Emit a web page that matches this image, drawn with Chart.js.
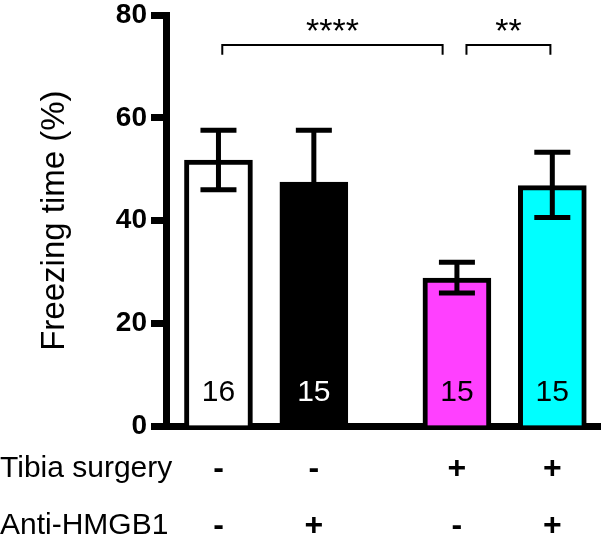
<!DOCTYPE html>
<html>
<head>
<meta charset="utf-8">
<script src="https://cdn.jsdelivr.net/npm/chart.js@4"></script>
<style>
  body { margin: 0; background: #fff; }
  canvas { display: block; }
</style>
</head>
<body>
<canvas id="freezingChart" width="601" height="538"></canvas>
<script>
// Data
const barPositions = [0, 1, 2.5, 3.5];
const meanValues = [51.8, 47.5, 28.8, 46.8];
const errUpper = [57.6, 57.6, 31.9, 53.3];
const errLower = [46.0, 37.4, 25.9, 40.6];
const groupCounts = ['16', '15', '15', '15'];
const barColors = ['#ffffff', '#000000', '#ff40ff', '#00ffff'];
const countColors = ['#000000', '#ffffff', '#000000', '#000000'];
const tibiaSurgery = ['-', '-', '+', '+'];
const antiHMGB1 = ['-', '+', '-', '+'];
const rowLabels = ['Tibia surgery', 'Anti-HMGB1'];
const yTicks = [0, 20, 40, 60, 80];

// significance brackets (x in bar positions, y in %)
const bracketFrom = [0.04, 2.6];
const bracketTo = [2.35, 3.48];
const bracketLevel = 74.2;
const bracketDrop = 72.3;
const bracketStars = ['****', '**'];

const FONT = "'Liberation Sans', Arial, sans-serif";
Chart.defaults.font.family = FONT;

// Error bars, n labels, brackets and the row table under the axis
const extrasPlugin = {
    id: 'extras',
    afterDatasetsDraw(chart) {
        const ctx = chart.ctx;
        const xs = chart.scales.x;
        const ys = chart.scales.y;
        ctx.save();

        // error bars
        ctx.strokeStyle = '#000';
        ctx.lineWidth = 5;
        ctx.lineCap = 'butt';
        barPositions.forEach((pos, i) => {
            const x = xs.getPixelForValue(pos);
            const yHi = ys.getPixelForValue(errUpper[i]);
            const yLo = ys.getPixelForValue(errLower[i]);
            ctx.beginPath();
            ctx.moveTo(x, yHi);
            ctx.lineTo(x, yLo);
            ctx.moveTo(x - 18, yHi);
            ctx.lineTo(x + 18, yHi);
            ctx.moveTo(x - 18, yLo);
            ctx.lineTo(x + 18, yLo);
            ctx.stroke();
        });

        // n per group inside the bars
        ctx.font = '30px ' + FONT;
        ctx.textAlign = 'center';
        ctx.textBaseline = 'middle';
        barPositions.forEach((pos, i) => {
            ctx.fillStyle = countColors[i];
            ctx.fillText(groupCounts[i], xs.getPixelForValue(pos), ys.getPixelForValue(0) - 33);
        });

        // brackets
        ctx.lineWidth = 2;
        ctx.fillStyle = '#000';
        ctx.font = '34px ' + FONT;
        ctx.textBaseline = 'middle';
        bracketFrom.forEach((from, i) => {
            const x1 = xs.getPixelForValue(from);
            const x2 = xs.getPixelForValue(bracketTo[i]);
            const yTop = ys.getPixelForValue(bracketLevel);
            const yEnd = ys.getPixelForValue(bracketDrop);
            ctx.beginPath();
            ctx.moveTo(x1, yEnd);
            ctx.lineTo(x1, yTop);
            ctx.lineTo(x2, yTop);
            ctx.lineTo(x2, yEnd);
            ctx.stroke();
            ctx.fillText(bracketStars[i], (x1 + x2) / 2, yTop - 12);
        });

        // treatment table
        const rowY = [469, 526];
        ctx.font = '30px ' + FONT;
        ctx.textAlign = 'left';
        rowLabels.forEach((label, r) => ctx.fillText(label, 0, rowY[r]));
        ctx.font = 'bold 32px ' + FONT;
        ctx.textAlign = 'center';
        [tibiaSurgery, antiHMGB1].forEach((row, r) => {
            row.forEach((sym, i) => {
                ctx.fillText(sym, xs.getPixelForValue(barPositions[i]), rowY[r]);
            });
        });

        ctx.restore();
    }
};

const chartCtx = document.getElementById('freezingChart').getContext('2d');
const freezingChart = new Chart(chartCtx, {
    type: 'bar',
    data: {
        datasets: [{
            data: barPositions.map((x, i) => ({ x: x, y: meanValues[i] })),
            backgroundColor: barColors,
            borderColor: '#000',
            borderWidth: 5,
            borderSkipped: 'bottom',
            barThickness: 68
        }]
    },
    options: {
        responsive: false,
        animation: false,
        layout: { padding: { top: 12, right: 1 } },
        plugins: {
            legend: { display: false },
            tooltip: { enabled: false }
        },
        scales: {
            x: {
                type: 'linear',
                offset: false,
                min: -0.55,
                max: 4.0,
                ticks: { display: false },
                grid: { display: false },
                border: { width: 7, color: '#000' },
                afterFit: scale => { scale.height = 112; }
            },
            y: {
                min: 0,
                max: 80,
                afterBuildTicks: scale => { scale.ticks = yTicks.map(v => ({ value: v })); },
                ticks: {
                    color: '#000',
                    padding: 4,
                    font: { size: 28, weight: 'bold', lineHeight: 0.8 }
                },
                grid: {
                    drawOnChartArea: false,
                    tickLength: 15,
                    tickWidth: 7,
                    color: '#000'
                },
                border: { width: 7, color: '#000' },
                title: {
                    display: true,
                    text: 'Freezing time (%)',
                    color: '#000',
                    font: { size: 33 },
                    padding: { top: 35 }
                },
                afterFit: scale => { scale.width = 166; }
            }
        }
    },
    plugins: [extrasPlugin]
});
</script>
</body>
</html>
